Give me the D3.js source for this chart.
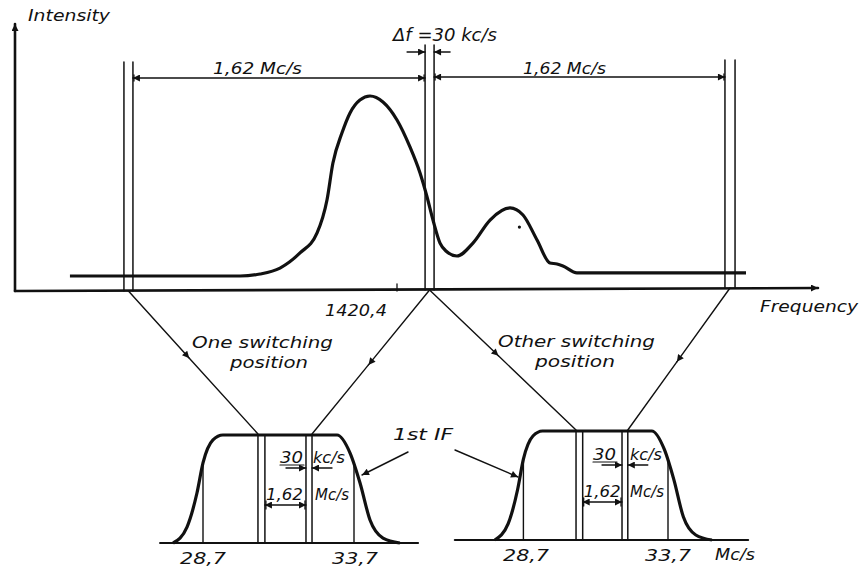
<!DOCTYPE html>
<html>
<head>
<meta charset="utf-8">
<script src="https://cdn.jsdelivr.net/npm/d3@7"></script>
<style>
  body { margin: 0; background: #fff; }
  text { font-family: "DejaVu Sans", sans-serif; font-style: italic; fill: #111; }
</style>
</head>
<body>
<svg id="chart" width="863" height="567"></svg>
<script>
// spectrum seen by the receiver (frequency in Mc/s, relative intensity)
const spectrumFreq = [1418.583, 1419.528, 1419.639, 1419.75, 1419.861, 1419.956, 1420.011, 1420.044, 1420.094, 1420.139, 1420.194, 1420.25, 1420.322, 1420.4, 1420.472, 1420.528, 1420.567, 1420.6, 1420.639, 1420.672, 1420.733, 1420.822, 1420.917, 1421.028, 1421.1, 1421.178, 1421.25, 1421.289, 1421.322, 1421.4, 1422.339];
const spectrumInt  = [0, 0, 0.011, 0.044, 0.128, 0.239, 0.422, 0.628, 0.794, 0.906, 0.978, 1.0, 0.967, 0.867, 0.717, 0.572, 0.439, 0.311, 0.183, 0.139, 0.111, 0.183, 0.311, 0.378, 0.339, 0.2, 0.072, 0.067, 0.056, 0.017, 0.017];

// switching positions (pairs, Δf = 30 kc/s), 1,62 Mc/s apart
const switchFreqs = [1418.883, 1418.933, 1420.556, 1420.606, 1422.222, 1422.278];
const tickFreq = 1420.4;
const tickLabel = "1420,4";

// 1st IF pass band (Mc/s, relative gain)
const ifFreq = [27.71, 28.17, 28.50, 28.70, 29.03, 29.36, 33.14, 33.57, 33.90, 34.23, 34.66, 35.22];
const ifGain = [0, 0.148, 0.463, 0.741, 0.954, 1, 1, 0.833, 0.556, 0.213, 0.046, 0];
const ifLines = [30.52, 30.75, 32.11, 32.31];
const ifMarks = [28.7, 33.7];
const ifMarkLabels = ["28,7", "33,7"];
const ifBaseL = [27.28, 35.82];
const ifBaseR = [26.33, 36.47];

const svg = d3.select("#chart");

// arrow head
svg.append("defs").append("marker")
    .attr("id", "ah")
    .attr("viewBox", "0 0 10 10")
    .attr("refX", 10).attr("refY", 5)
    .attr("markerWidth", 10).attr("markerHeight", 7)
    .attr("markerUnits", "userSpaceOnUse")
    .attr("orient", "auto-start-reverse")
    .append("path").attr("d", "M0,0 L10,5 L0,10 z").attr("fill", "#111");

//scales
const xTop = d3.scaleLinear().domain([1420.4, 1421.4]).range([397, 577]);
const yTop = d3.scaleLinear().domain([0, 1]).range([276, 96]);
const xIF1 = d3.scaleLinear().domain([28.7, 33.7]).range([203, 354]);
const xIF2 = d3.scaleLinear().domain([28.7, 33.7]).range([523.4, 668]);
const yIF1 = d3.scaleLinear().domain([0, 1]).range([543, 435]);
const yIF2 = d3.scaleLinear().domain([0, 1]).range([540, 431]);

function line(x1, y1, x2, y2, w, opts) {
    const l = svg.append("line")
        .attr("x1", x1).attr("y1", y1).attr("x2", x2).attr("y2", y2)
        .attr("stroke", "#111").attr("stroke-width", w || 1.4)
        .attr("stroke-linecap", "round");
    if (opts && opts.end) l.attr("marker-end", "url(#ah)");
    if (opts && opts.start) l.attr("marker-start", "url(#ah)");
    return l;
}
function label(x, y, t, w, size) {
    svg.append("text").attr("x", x).attr("y", y)
        .attr("font-size", size || 15)
        .attr("textLength", w).attr("lengthAdjust", "spacingAndGlyphs")
        .text(t);
}
function gainAt(f) {
    const i = d3.bisectRight(ifFreq, f);
    if (i <= 0) return ifGain[0];
    if (i >= ifFreq.length) return ifGain[ifGain.length - 1];
    const t = (f - ifFreq[i - 1]) / (ifFreq[i] - ifFreq[i - 1]);
    return ifGain[i - 1] + t * (ifGain[i] - ifGain[i - 1]);
}

// TOP PANEL
// axes
line(15, 291, 15, 24, 2.6, {end: true});
line(15, 291, 818, 288, 2.6, {end: true});
label(28, 21, "Intensity", 82, 15);
label(760, 312, "Frequency", 98, 16);

// tick 1420,4
line(xTop(tickFreq), 291, xTop(tickFreq), 284, 1.3);
label(xTop(tickFreq) - 72, 316, tickLabel, 62, 15);

// spectrum curve
const spec = spectrumFreq.map((f, i) => [xTop(f), yTop(spectrumInt[i])]);
svg.append("path")
    .attr("d", d3.line().curve(d3.curveMonotoneX)(spec))
    .attr("fill", "none").attr("stroke", "#111").attr("stroke-width", 3.2);
svg.append("circle").attr("cx", xTop(1421.08)).attr("cy", yTop(0.272)).attr("r", 1.6).attr("fill", "#111");

// switching lines
const switchTop = [62, 62, 45, 45, 60, 60];
const switchBot = [291, 291, 290, 290, 288, 288];
switchFreqs.forEach((f, i) => line(xTop(f), switchTop[i], xTop(f), switchBot[i], 1.5));

// 1,62 Mc/s dimensions
const dimY = [78, 77];
[[1, 2], [3, 4]].forEach((p, k) => {
    const a = xTop(switchFreqs[p[0]]), b = xTop(switchFreqs[p[1]]);
    line(a, dimY[k], b, dimY[k], 1.6, {start: true, end: true});
    line(a + 1, dimY[k] - 3, a + 1, dimY[k] + 3, 1.3);
    line(b - 1, dimY[k] - 3, b - 1, dimY[k] + 3, 1.3);
});
label(213, 74, "1,62 Mc/s", 89, 16);
label(523, 74, "1,62 Mc/s", 83, 16);

// Δf = 30 kc/s
label(393, 41, "Δf =30 kc/s", 104, 17);
line(xTop(switchFreqs[2]) - 18, 52, xTop(switchFreqs[2]), 52, 1.4, {end: true});
line(xTop(switchFreqs[3]) + 16, 52, xTop(switchFreqs[3]), 52, 1.4, {end: true});

// converging lines to the IF pictures, with arrow halfway
function conv(x1, y1, x2, y2, t) {
    const mx = x1 + (x2 - x1) * t, my = y1 + (y2 - y1) * t;
    line(x1, y1, mx, my, 1.4, {end: true});
    line(mx, my, x2, y2, 1.4);
}
const midL = xTop((switchFreqs[0] + switchFreqs[1]) / 2);
const midC = xTop((switchFreqs[2] + switchFreqs[3]) / 2);
const midR = xTop((switchFreqs[4] + switchFreqs[5]) / 2);
conv(midL, 291, xIF1(ifLines[0]), yIF1(1) - 1, 0.47);
conv(midC, 290, xIF1(ifLines[3]), yIF1(1) - 1, 0.52);
conv(midC, 290, xIF2(ifLines[0]), yIF2(1) - 1, 0.47);
conv(midR, 288, xIF2(ifLines[3]), yIF2(1) - 1, 0.52);

label(192, 348, "One  switching", 141, 15);
label(230, 368, "position", 78, 15);
label(498, 347, "Other  switching", 157, 15);
label(535, 367, "position", 80, 15);

// BOTTOM PANELS
function ifPanel(xs, ys, base, txt) {
    line(xs(base[0]), ys(0), xs(base[1]), ys(0), 2.2);
    const pts = ifFreq.map((f, i) => [xs(f), ys(ifGain[i])]);
    svg.append("path")
        .attr("d", d3.line().curve(d3.curveMonotoneX)(pts))
        .attr("fill", "none").attr("stroke", "#111").attr("stroke-width", 3.2)
        .attr("stroke-linejoin", "round");
    ifMarks.forEach((f, i) => {
        line(xs(f), ys(0), xs(f), ys(gainAt(f)), 1.4);
        label(txt.marks[i], ys(0) + 21, ifMarkLabels[i], 46, 16);
    });
    ifLines.forEach(f => line(xs(f), ys(1), xs(f), ys(0), 1.5));
    // 30 kc/s
    const ky = ys(0) - 75;
    line(xs(ifLines[2]) - 20, ky, xs(ifLines[2]), ky, 1.3, {end: true});
    line(xs(ifLines[3]) + 20, ky, xs(ifLines[3]), ky, 1.3, {end: true});
    label(txt.k30, ky - 5, "30", 23, 16);
    line(txt.k30, ky - 3, txt.k30 + 24, ky - 3, 1.2);
    label(txt.kcs, ky - 5, "kc/s", 32, 16);
    // 1,62 Mc/s
    const my = ys(0) - 38;
    line(xs(ifLines[1]), my, xs(ifLines[2]), my, 1.4, {start: true, end: true});
    line(xs(ifLines[1]) + 1, my - 4, xs(ifLines[1]) + 1, my + 4, 1.3);
    line(xs(ifLines[2]) - 1, my - 4, xs(ifLines[2]) - 1, my + 4, 1.3);
    label(xs(ifLines[1]) + 1, my - 5, "1,62", 37, 16);
    label(txt.mcs, my - 5, "Mc/s", 34, 16);
}
ifPanel(xIF1, yIF1, ifBaseL, {marks: [180, 332], k30: 280, kcs: 313, mcs: 315});
ifPanel(xIF2, yIF2, ifBaseR, {marks: [503, 645], k30: 593, kcs: 630, mcs: 630});
label(715, 560, "Mc/s", 40, 16);

// 1st IF
label(393, 440, "1st  IF", 60, 16);
line(408, 452, 362, 475, 1.4, {end: true});
line(455, 450, 518, 477, 1.4, {end: true});
</script>
</body>
</html>
